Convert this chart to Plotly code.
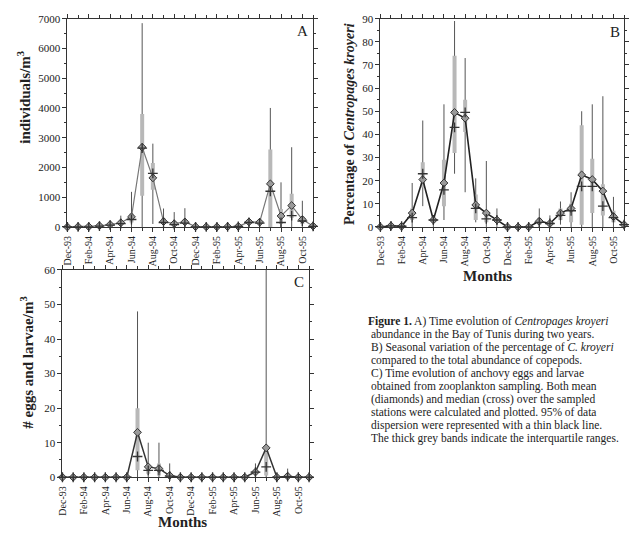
import plotly.graph_objects as go

months = ['Dec-93', 'Jan-94', 'Feb-94', 'Mar-94', 'Apr-94', 'May-94', 'Jun-94', 'Jul-94',
          'Aug-94', 'Sep-94', 'Oct-94', 'Nov-94', 'Dec-94', 'Jan-95', 'Feb-95', 'Mar-95',
          'Apr-95', 'May-95', 'Jun-95', 'Jul-95', 'Aug-95', 'Sep-95', 'Oct-95', 'Nov-95']
tick_idx = list(range(0, len(months), 2))
tick_labels = [months[i] for i in tick_idx]

# Panel A: C. kroyeri abundance (individuals/m3)
A_mean = [0, 10, 10, 40, 80, 140, 340, 2680, 1650, 180, 110, 170, 10, 5, 5, 10, 20, 170, 160, 1450, 370, 720, 250, 30]
A_median = [0, 5, 5, 30, 60, 110, 250, 2650, 1800, 150, 80, 130, 5, 3, 3, 5, 15, 150, 130, 1200, 150, 380, 200, 20]
A_q1 = [0, 0, 0, 10, 30, 50, 150, 1050, 1250, 100, 50, 80, 0, 0, 0, 0, 5, 100, 80, 0, 100, 300, 100, 10]
A_q3 = [0, 20, 20, 70, 120, 200, 450, 3800, 2150, 300, 200, 250, 20, 10, 10, 20, 40, 250, 220, 2600, 600, 1120, 350, 50]
A_lo = [0, 0, 0, 0, 0, 0, 0, 0, 100, 0, 0, 0, 0, 0, 0, 0, 0, 0, 0, 0, 0, 0, 0, 0]
A_hi = [0, 30, 40, 120, 200, 380, 1180, 6850, 2800, 620, 500, 630, 30, 20, 20, 40, 80, 300, 250, 4000, 1500, 2680, 880, 80]

# Panel B: percentage of C. kroyeri
B_mean = [0, 0.5, 0.3, 6, 20.5, 3, 19, 49.5, 47, 9.5, 6, 3, 0, 0, 0, 2.5, 1.5, 6, 8, 22.5, 20.5, 15.5, 4.5, 1]
B_median = [0, 0.5, 0.3, 4, 23, 3, 16, 43, 49.5, 8, 3.5, 3, 0, 0, 0, 2, 1.5, 5, 7, 17.5, 17.5, 9, 4, 1]
B_q1 = [0, 0, 0, 3, 17, 2, 9, 32, 41, 3, 2, 2, 0, 0, 0, 1, 1, 3, 2, 1, 6, 5, 2, 0.5]
B_q3 = [0, 1, 1, 8, 28, 4, 29, 74, 55, 14, 7, 4, 0, 0, 0, 4, 2, 8, 10, 44, 29.5, 18.5, 7, 1.5]
B_lo = [0, 0, 0, 0, 9, 0, 3, 23, 15, 2, 0, 0, 0, 0, 0, 0, 0, 1, 0, 0, 0, 0, 0, 0]
B_hi = [0, 1, 1, 19, 46, 5, 53, 89, 73, 21, 28.5, 8, 0, 0, 0, 8, 5, 11, 15, 50, 53, 56.5, 13, 2]

# Panel C: anchovy eggs and larvae
C_mean = [0, 0, 0, 0, 0, 0, 0, 13, 3, 2.5, 0.5, 0, 0, 0, 0, 0, 0, 0, 1.5, 8.5, 0, 0.3, 0, 0]
C_median = [0, 0, 0, 0, 0, 0, 0, 6, 2, 2, 0.3, 0, 0, 0, 0, 0, 0, 0, 1.5, 3, 0, 0.2, 0, 0]
C_q1 = [0, 0, 0, 0, 0, 0, 0, 2, 1, 0.5, 0, 0, 0, 0, 0, 0, 0, 0, 1, 0.5, 0, 0, 0, 0]
C_q3 = [0, 0, 0, 0, 0, 0, 0, 20, 3.5, 4, 1, 0, 0, 0, 0, 0, 0, 0, 2, 8, 0, 1, 0, 0]
C_lo = [0] * 24
C_hi = [0, 0, 0, 0, 0, 0, 0, 48, 10, 10, 4, 0, 0, 0, 0, 0, 0, 0, 4, 60, 0, 2.5, 0, 0]

caption_lines = [
    "<b>Figure 1.</b> A) Time evolution of <i>Centropages kroyeri</i>",
    "abundance in the Bay of Tunis during two years.",
    "B) Seasonal variation of the percentage of <i>C. kroyeri</i>",
    "compared to the total abundance of copepods.",
    "C) Time evolution of anchovy eggs and larvae",
    "obtained from zooplankton sampling. Both mean",
    "(diamonds) and median (cross) over the sampled",
    "stations were calculated and plotted. 95% of data",
    "dispersion were represented with a thin black line.",
    "The thick grey bands indicate the interquartile ranges.",
]

FONT = "Liberation Serif"
W, H = 629, 537


def px(x):
    return x / W


def py(y):
    return 1 - y / H


def segs(lo, hi):
    xs, ys = [], []
    for i, (l, h) in enumerate(zip(lo, hi)):
        xs += [i, i, None]
        ys += [l, h, None]
    return xs, ys


fig = go.Figure()
panels = [
    ('x', 'y', A_mean, A_median, A_q1, A_q3, A_lo, A_hi, '#777777', 1.2),
    ('x2', 'y2', B_mean, B_median, B_q1, B_q3, B_lo, B_hi, '#222222', 1.6),
    ('x3', 'y3', C_mean, C_median, C_q1, C_q3, C_lo, C_hi, '#333333', 1.5),
]
idx = list(range(len(months)))
for xa, ya, mean, med, q1, q3, lo, hi, lc, lw in panels:
    xs, ys = segs(lo, hi)
    fig.add_trace(go.Scatter(x=xs, y=ys, mode='lines', xaxis=xa, yaxis=ya,
                             line=dict(color='#555555', width=1), hoverinfo='skip'))
    xs, ys = segs(q1, q3)
    fig.add_trace(go.Scatter(x=xs, y=ys, mode='lines', xaxis=xa, yaxis=ya,
                             line=dict(color='#b8b8b8', width=4), hoverinfo='skip'))
    fig.add_trace(go.Scatter(x=idx, y=mean, mode='lines+markers', xaxis=xa, yaxis=ya,
                             cliponaxis=False,
                             line=dict(color=lc, width=lw),
                             marker=dict(symbol='diamond', size=6, color='#9a9a9a',
                                         line=dict(color='#333333', width=1))))
    fig.add_trace(go.Scatter(x=idx, y=med, mode='markers', xaxis=xa, yaxis=ya,
                             cliponaxis=False,
                             marker=dict(symbol='cross-thin-open', size=7, color='#333333',
                                         line=dict(color='#333333', width=1.3))))

axis_common = dict(showline=True, linecolor='#333333', linewidth=1, mirror='allticks',
                   ticks='outside', ticklen=4, tickcolor='#333333', showgrid=False,
                   zeroline=False, tickfont=dict(family=FONT, size=11, color='#222222'))

xcommon = dict(axis_common, range=[0, 23], tickvals=tick_idx, ticktext=tick_labels, tickangle=-90,
               tickfont=dict(family=FONT, size=10, color='#222222'),
               minor=dict(tick0=0, dtick=1, ticks='outside', ticklen=3, tickcolor='#333333'))

fig.update_layout(
    width=W, height=H, margin=dict(l=0, r=0, t=0, b=0),
    paper_bgcolor='white', plot_bgcolor='white', showlegend=False,
    xaxis=dict(xcommon, domain=[px(62), px(310)], anchor='y'),
    yaxis=dict(axis_common, domain=[py(226), py(13)], anchor='x', range=[0, 7000],
               dtick=1000, minor=dict(dtick=500, ticks='outside', ticklen=2, tickcolor='#333333')),
    xaxis2=dict(xcommon, domain=[px(378), px(624)], anchor='y2'),
    yaxis2=dict(axis_common, domain=[py(226), py(13)], anchor='x2', range=[0, 90],
                dtick=10, minor=dict(dtick=5, ticks='outside', ticklen=2, tickcolor='#333333')),
    xaxis3=dict(xcommon, domain=[px(57), px(306)], anchor='y3'),
    yaxis3=dict(axis_common, domain=[py(482), py(270)], anchor='x3', range=[0, 60],
                dtick=10, minor=dict(dtick=5, ticks='outside', ticklen=2, tickcolor='#333333')),
)

annos = [
    dict(text='<b>individuals/m<sup>3</sup></b>', x=px(18), y=py(93), textangle=-90, size=15),
    dict(text='<b>Percentage of <i>Centropages kroyeri</i></b>', x=px(347), y=py(121), textangle=-90, size=14),
    dict(text='<b># eggs and larvae/m<sup>3</sup></b>', x=px(21), y=py(365), textangle=-90, size=15),
    dict(text='<b>Months</b>', x=px(486), y=py(276), textangle=0, size=15),
    dict(text='<b>Months</b>', x=px(178), y=py(528), textangle=0, size=15),
    dict(text='A', x=px(299), y=py(26), textangle=0, size=15),
    dict(text='B', x=px(615), y=py(27), textangle=0, size=15),
    dict(text='C', x=px(296), y=py(282), textangle=0, size=15),
]
for a in annos:
    fig.add_annotation(text=a['text'], x=a['x'], y=a['y'], xref='paper', yref='paper',
                       showarrow=False, textangle=a['textangle'], xanchor='center', yanchor='middle',
                       font=dict(family=FONT, size=a['size'], color='#222222'))

for i, line in enumerate(caption_lines):
    fig.add_annotation(text=line, x=px(363 if i == 0 else 366), y=py(323 + i * 13.3),
                       xref='paper', yref='paper', showarrow=False, xanchor='left', yanchor='middle',
                       font=dict(family=FONT, size=11.5, color='#222222'))

fig.write_html("out.html", config={'displayModeBar': False},
               post_script="document.body.style.margin='0';document.body.style.overflow='hidden';")
